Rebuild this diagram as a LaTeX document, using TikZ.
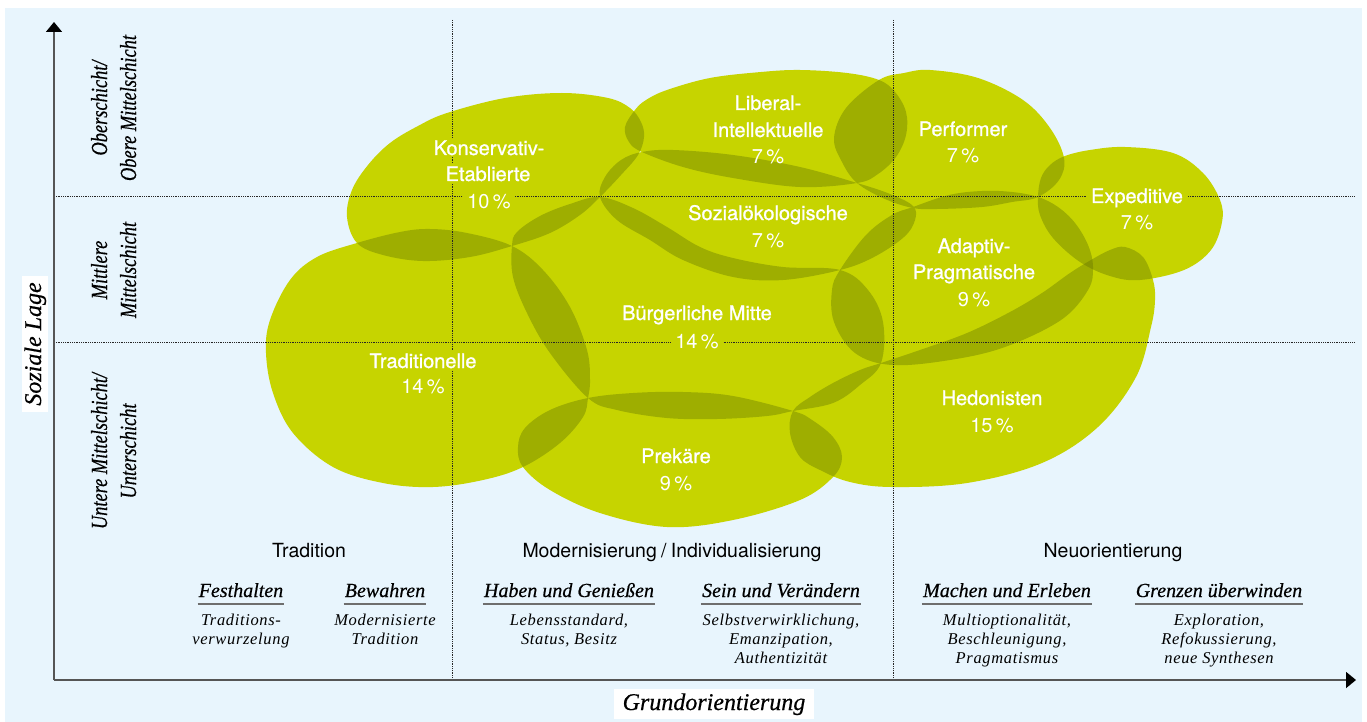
\documentclass[tikz,border=0pt]{standalone}
\usepackage{fontspec}
\setmainfont{Liberation Serif}
\setsansfont{TeX Gyre Heros}
\newfontfamily\descfont[LetterSpace=4]{Liberation Serif}
\newfontfamily\hdrfont[FakeBold=0.5]{Liberation Serif}
\newfontfamily\namefont[FakeBold=1.0]{TeX Gyre Heros}
\usetikzlibrary{arrows.meta}
\definecolor{bgblue}{RGB}{232,245,253}
\definecolor{gA}{RGB}{198,212,0}
\definecolor{gB}{RGB}{158,174,0}
\definecolor{gC}{RGB}{135,150,0}
\definecolor{axisgray}{RGB}{85,85,85}
\definecolor{ulgray}{RGB}{110,110,110}

\def\pKE{plot[smooth cycle,tension=0.6] coordinates{(347,217) (352,190) (368,165) (390,143) (418,126) (447,113) (505,98) (562,93) (608,98) (630,108) (641,122) (644,137) (638,155) (621,175) (600,197) (580,215) (550,233) (512,246) (470,257) (423,261) (383,255) (357,243)}}
\def\pLI{plot[smooth cycle,tension=0.6] coordinates{(635,110) (625,127) (629,142) (642,152) (683,167) (733,178) (800,187) (857,183) (878,174) (896,157) (906,135) (906,112) (895,92) (879,80) (847,73) (800,70) (761,72) (710,78) (667,90) (646,100)}}
\def\pPerf{plot[smooth cycle,tension=0.6] coordinates{(879,80) (904,73) (930,70) (978,78) (1023,100) (1050,128) (1064,158) (1059,180) (1038,197) (1012,202) (982,207) (937,209) (913,208) (885,199) (857,183) (842,162) (834,138) (846,108)}}
\def\pExp{plot[smooth cycle,tension=0.6] coordinates{(1038,197) (1041,178) (1050,165) (1065,156) (1090,150) (1125,147) (1173,153) (1203,173) (1220,200) (1222,222) (1211,250) (1184,270) (1140,280) (1110,276) (1080,262) (1053,238) (1040,215)}}
\def\pAP{plot[smooth cycle,tension=0.6] coordinates{(913,207) (949,195) (982,191) (1012,192) (1038,197) (1058,207) (1075,223) (1088,245) (1093,267) (1088,290) (1061,320) (1005,347) (950,360) (892,365) (855,353) (834,322) (832,290) (840,270) (866,235) (892,215)}}
\def\pH{plot[smooth cycle,tension=0.6] coordinates{(881,363) (920,350) (967,333) (1010,312) (1042,293) (1070,273) (1091,260) (1110,250) (1125,247) (1143,257) (1153,280) (1155,300) (1151,327) (1136,377) (1098,427) (1042,463) (967,483) (892,487) (850,482) (820,470) (800,457) (790,433) (793,411) (810,397) (833,383) (860,370)}}
\def\pBM{plot[smooth cycle,tension=0.6] coordinates{(512,246) (517,232) (540,216) (570,204) (600,197) (633,208) (667,227) (700,247) (733,258) (783,267) (840,270) (868,290) (883,322) (881,363) (860,385) (833,403) (793,411) (767,416) (717,419) (667,418) (617,410) (588,398) (550,353) (527,313) (513,277)}}
\def\pSO{plot[smooth cycle,tension=0.6] coordinates{(642,152) (673,150) (733,155) (800,167) (857,183) (890,194) (913,206) (915,220) (904,237) (874,257) (840,270) (783,280) (733,277) (683,260) (650,240) (617,220) (600,197) (605,177) (621,160)}}
\def\pPrek{plot[smooth cycle,tension=0.6] coordinates{(588,398) (633,393) (683,392) (733,396) (793,411) (812,420) (833,437) (842,457) (833,477) (800,500) (733,520) (667,527) (600,513) (550,490) (523,467) (518,447) (525,428) (550,410)}}
\def\pTrad{plot[smooth cycle,tension=0.6] coordinates{(357,243) (400,232) (430,229) (467,233) (512,246) (543,270) (570,307) (587,350) (590,380) (588,398) (583,417) (560,443) (523,467) (483,480) (433,487) (383,483) (333,467) (293,433) (273,393) (266,353) (270,320) (290,280) (317,257)}}

\newcommand\ovlap[2]{\begin{scope}\clip #1;\fill[gB] #2;\end{scope}}

\tikzset{
  blobname/.style={font=\namefont\fontsize{20}{24}\selectfont, text=white, anchor=base, inner sep=0pt},
  blobpct/.style={font=\sffamily\fontsize{20}{24}\selectfont, text=white, anchor=base, inner sep=0pt},
  knock/.style={fill=gA, inner xsep=4pt, inner ysep=2pt},
  grp/.style={font=\sffamily\fontsize{19.5}{23}\selectfont, text=black, anchor=base, inner sep=0pt},
  hdr/.style={font=\hdrfont\itshape\fontsize{20}{24}\selectfont, text=black, anchor=base, inner xsep=1pt, inner ysep=0pt},
  desc/.style={font=\descfont\itshape\fontsize{16.5}{19}\selectfont, text=black, anchor=base, inner sep=0pt},
  rowlbl/.style={font=\hdrfont\itshape\fontsize{23}{27}\selectfont, text=black, anchor=base, rotate=90, inner sep=0pt},
  axistitle/.style={font=\hdrfont\itshape\fontsize{24}{28}\selectfont, text=black, fill=white, anchor=base},
  uline/.style={draw=ulgray, line width=1.4pt},
  dots/.style={draw=black!85, line width=0.9pt, dash pattern=on 0.9pt off 0.9pt},
  axisline/.style={draw=axisgray, line width=1.6pt}
}

\begin{document}
\begin{tikzpicture}[x=1pt,y=-1pt]
\useasboundingbox (0,0) rectangle (1367,722);
\fill[bgblue] (5,8) rectangle (1362,722);

% blobs
\foreach \p in {\pKE,\pLI,\pPerf,\pExp,\pAP,\pH,\pBM,\pSO,\pPrek,\pTrad}{\fill[gA] \p;}

% overlaps
\ovlap{\pKE}{\pLI}
\ovlap{\pKE}{\pSO}
\ovlap{\pKE}{\pBM}
\ovlap{\pKE}{\pTrad}
\ovlap{\pLI}{\pSO}
\ovlap{\pLI}{\pPerf}
\ovlap{\pPerf}{\pSO}
\ovlap{\pPerf}{\pAP}
\ovlap{\pPerf}{\pExp}
\ovlap{\pExp}{\pAP}
\ovlap{\pExp}{\pH}
\ovlap{\pAP}{\pSO}
\ovlap{\pAP}{\pBM}
\ovlap{\pAP}{\pH}
\ovlap{\pBM}{\pSO}
\ovlap{\pBM}{\pTrad}
\ovlap{\pBM}{\pPrek}
\ovlap{\pBM}{\pH}
\ovlap{\pTrad}{\pPrek}
\ovlap{\pPrek}{\pH}
\begin{scope}\clip \pExp; \clip \pAP; \fill[gC] \pH;\end{scope}

% grid
\coordinate (O) at (54,680);
\coordinate (Ytip) at (54,22);
\coordinate (Xtip) at (1356,680);
\coordinate (v1t) at (452,20);
\coordinate (v1b) at (452,680);
\coordinate (v2t) at (893,20);
\coordinate (v2b) at (893,680);
\coordinate (h1l) at (54,196);
\coordinate (h1r) at (1355,196);
\coordinate (h2l) at (54,342);
\coordinate (h2r) at (1355,342);
\draw[dots] (v1t) -- (v1b);
\draw[dots] (v2t) -- (v2b);
\draw[dots] (h1l) -- (h1r);
\draw[dots] (h2l) -- (h2r);

% blob labels
\node[blobname,knock] (KE1) at (489,155) {Konservativ-};
\node[blobname,knock] (KE2) at (488,181) {Etablierte};
\node[blobpct,knock] (KE3) at (489,208) {10\,\%};
\node[blobname] (LI1) at (768,110) {Liberal-};
\node[blobname] (LI2) at (768,137) {Intellektuelle};
\node[blobpct] (LI3) at (768,164) {7\,\%};
\node[blobname] (PF1) at (963,136) {Performer};
\node[blobpct] (PF2) at (963,163) {7\,\%};
\node[blobname,knock] (EX1) at (1137,203) {Expeditive};
\node[blobpct] (EX2) at (1137,229) {7\,\%};
\node[blobname] (SO1) at (768,220) {Sozialökologische};
\node[blobpct] (SO2) at (768,247) {7\,\%};
\node[blobname] (AP1) at (974,253) {Adaptiv-};
\node[blobname] (AP2) at (974,279) {Pragmatische};
\node[blobpct] (AP3) at (974,306) {9\,\%};
\node[blobname] (BM1) at (697,320) {Bürgerliche Mitte};
\node[blobpct,knock] (BM2) at (697,348) {14\,\%};
\node[blobname,knock] (TR1) at (423,368) {Traditionelle};
\node[blobpct] (TR2) at (423,393) {14\,\%};
\node[blobname] (HE1) at (992,405) {Hedonisten};
\node[blobpct] (HE2) at (992,432) {15\,\%};
\node[blobname] (PR1) at (676,463) {Prekäre};
\node[blobpct] (PR2) at (676,490) {9\,\%};

% axes
\draw[axisline,-{Triangle[length=10pt,width=16pt,color=black]}] (O) -- (Ytip);
\draw[axisline,-{Triangle[length=10pt,width=16pt,color=black]}] (O) -- (Xtip);

\node[axistitle, rotate=90, inner xsep=6pt, inner ysep=2pt] (ySL) at (41,344) {Soziale Lage};
\node[axistitle, inner xsep=9pt, inner ysep=4pt] (xGO) at (714,710) {Grundorientierung};

% row labels
\node[rowlbl] (r1a) at (107,108) {\scalebox{0.8}[1]{Oberschicht/}};
\node[rowlbl] (r1b) at (136,108) {\scalebox{0.8}[1]{Obere Mittelschicht}};
\node[rowlbl] (r2a) at (107,270) {\scalebox{0.8}[1]{Mittlere}};
\node[rowlbl] (r2b) at (136,270) {\scalebox{0.8}[1]{Mittelschicht}};
\node[rowlbl] (r3a) at (107,451) {\scalebox{0.8}[1]{Untere Mittelschicht/}};
\node[rowlbl] (r3b) at (136,451) {\scalebox{0.8}[1]{Unterschicht}};

% group headers
\node[grp] (gT) at (309,557) {Tradition};
\node[grp] (gM) at (672,557) {Modernisierung\hspace{0.22em}/\hspace{0.22em}Individualisierung};
\node[grp] (gN) at (1113,557) {Neuorientierung};

% sub headers
\node[hdr] (h1) at (241,597) {Festhalten};
\node[hdr] (h2) at (385,597) {Bewahren};
\node[hdr] (h3) at (569,597) {Haben und Genießen};
\node[hdr] (h4) at (781,597) {Sein und Verändern};
\node[hdr] (h5) at (1007,597) {Machen und Erleben};
\node[hdr] (h6) at (1219,597) {Grenzen überwinden};
\foreach \h in {h1,h2,h3,h4,h5,h6}{
  \draw[uline] ([yshift=-7pt]\h.base west) -- ([yshift=-7pt]\h.base east);
}

% descriptions
\node[desc] (d1a) at (241,625) {Traditions-};
\node[desc] (d1b) at (241,644) {verwurzelung};
\node[desc] (d2a) at (385,625) {Modernisierte};
\node[desc] (d2b) at (385,644) {Tradition};
\node[desc] (d3a) at (569,625) {Lebensstandard,};
\node[desc] (d3b) at (569,644) {Status, Besitz};
\node[desc] (d4a) at (781,625) {Selbstverwirklichung,};
\node[desc] (d4b) at (781,644) {Emanzipation,};
\node[desc] (d4c) at (781,663) {Authentizität};
\node[desc] (d5a) at (1007,625) {Multioptionalität,};
\node[desc] (d5b) at (1007,644) {Beschleunigung,};
\node[desc] (d5c) at (1007,663) {Pragmatismus};
\node[desc] (d6a) at (1219,625) {Exploration,};
\node[desc] (d6b) at (1219,644) {Refokussierung,};
\node[desc] (d6c) at (1219,663) {neue Synthesen};
\end{tikzpicture}
\end{document}
